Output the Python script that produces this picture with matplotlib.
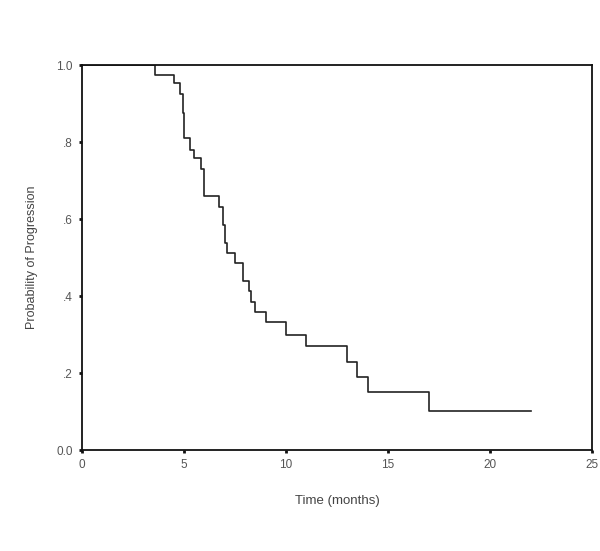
import matplotlib
matplotlib.use('Agg')
from matplotlib import pyplot as plt

# Kaplan-Meier style step values
times = [0, 3.6, 4.5, 4.8, 4.97, 5.02, 5.3, 5.5, 5.85, 6.0, 6.7, 6.9, 7.0,
         7.1, 7.5, 7.9, 8.2, 8.3, 8.5, 9.0, 10.0, 11.0, 13.0, 13.5, 14.0,
         17.0, 22.0]
prob = [1.0, 0.974, 0.952, 0.926, 0.876, 0.81, 0.779, 0.758, 0.73, 0.66,
        0.632, 0.584, 0.537, 0.513, 0.487, 0.439, 0.414, 0.385, 0.358, 0.333,
        0.30, 0.27, 0.229, 0.19, 0.151, 0.102, 0.102]

xticks = [0, 5, 10, 15, 20, 25]
yticks = [0.0, 0.2, 0.4, 0.6, 0.8, 1.0]
ytick_labels = ['0.0', '.2', '.4', '.6', '.8', '1.0']

plt.rcParams['font.family'] = ['Liberation Sans', 'DejaVu Sans']

fig = plt.figure(figsize=(6.0, 5.51), dpi=100)
ax = fig.add_axes([0.1367, 0.1833, 0.85, 0.6987])

ax.step(times, prob, where='post', color='#222222', linewidth=1.2)

ax.set_xlim(0, 25)
ax.set_ylim(0, 1.0)
ax.set_xticks(xticks)
ax.set_xticklabels([str(t) for t in xticks])
ax.set_yticks(yticks)
ax.set_yticklabels(ytick_labels)

for s in ax.spines.values():
    s.set_linewidth(1.3)
    s.set_color('#111111')

ax.tick_params(direction='out', length=2.5, width=2, color='#111111',
               labelsize=8.5, labelcolor='#555555', pad=4)

ax.set_xlabel('Time (months)', fontsize=9.5, color='#444444', labelpad=17)
ax.set_ylabel('Probability of Progression', fontsize=9, color='#444444',
              labelpad=13)

fig.savefig('out.png', dpi=100)
